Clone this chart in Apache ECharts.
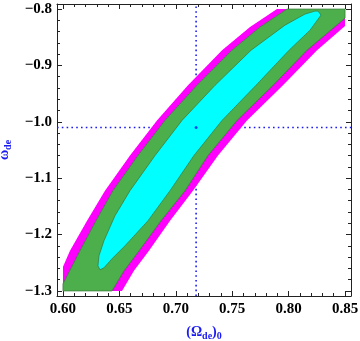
<!DOCTYPE html>
<html>
<head>
<meta charset="utf-8">
<script src="https://cdn.jsdelivr.net/npm/echarts@6/dist/echarts.min.js"></script>
<style>
  html, body { margin: 0; padding: 0; background: #fff; }
  #chart { width: 360px; height: 341px; }
</style>
</head>
<body>
<div id="chart"></div>
<script>
// axis ranges (Mathematica style frame with a little padding)
const xMin = 0.5947, xMax = 0.8553;
const yMin = -1.309, yMax = -0.791;
const xTicks = [0.60, 0.65, 0.70, 0.75, 0.80, 0.85];
const yTicks = [-1.3, -1.2, -1.1, -1.0, -0.9, -0.8];

// best fit point
const bestFit = [0.718, -1.01];

// outer (magenta) confidence region
const magentaRegion = [
    [0.6000, -1.2573], [0.6062, -1.2288], [0.6213, -1.1754], [0.6372, -1.1221],
    [0.6594, -1.0598], [0.6833, -0.9975], [0.7108, -0.9352], [0.7410, -0.8730],
    [0.7658, -0.8320], [0.7897, -0.8000], [0.8500, -0.8000], [0.8500, -0.8302],
    [0.8252, -0.8730], [0.7950, -0.9352], [0.7631, -0.9975], [0.7374, -1.0598],
    [0.7152, -1.1221], [0.6949, -1.1754], [0.6762, -1.2288], [0.6629, -1.2644],
    [0.6523, -1.3000], [0.6000, -1.3000]
];

// middle (green) region
const greenRegion = [
    [0.6000, -1.2875], [0.6151, -1.2288], [0.6293, -1.1754], [0.6443, -1.1221],
    [0.6665, -1.0598], [0.6904, -0.9975], [0.7188, -0.9352], [0.7498, -0.8730],
    [0.7746, -0.8320], [0.7986, -0.8000], [0.8500, -0.8000], [0.8500, -0.8160],
    [0.8163, -0.8730], [0.7862, -0.9352], [0.7543, -0.9975], [0.7285, -1.0598],
    [0.7082, -1.1221], [0.6869, -1.1754], [0.6674, -1.2288], [0.6541, -1.2644],
    [0.6434, -1.3000], [0.6000, -1.3000]
];

// inner (cyan) region
const cyanRegion = [
    [0.8261, -0.8036], [0.8287, -0.8107], [0.8190, -0.8374], [0.8004, -0.8730],
    [0.7711, -0.9352], [0.7410, -0.9975], [0.7161, -1.0598], [0.6949, -1.1221],
    [0.6754, -1.1754], [0.6550, -1.2199], [0.6434, -1.2431], [0.6363, -1.2591],
    [0.6328, -1.2626], [0.6310, -1.2555], [0.6319, -1.2377], [0.6363, -1.2110],
    [0.6461, -1.1665], [0.6594, -1.1221], [0.6816, -1.0598], [0.7055, -0.9975],
    [0.7348, -0.9352], [0.7667, -0.8730], [0.7968, -0.8285], [0.8145, -0.8089],
    [0.8234, -0.8036]
];

const blue = '#1c1cf0';
const labelFont = { fontFamily: 'Liberation Serif', fontWeight: 'bold', fontSize: 15, color: '#000' };

function minorTicks(from, to, step) {
    let out = [];
    for (let i = 0; from + i * step <= to + 1e-9; i++) {
        out.push(+(from + i * step).toFixed(4));
    }
    return out;
}
const xMinor = minorTicks(0.60, 0.85, 0.01);
const yMinor = minorTicks(-1.30, -0.80, 0.02);

function frameAxis(dim, pos, ticks, len, showLine, extra) {
    return Object.assign({
        type: 'value',
        position: pos,
        min: dim === 'x' ? xMin : yMin,
        max: dim === 'x' ? xMax : yMax,
        axisLine: { show: showLine, onZero: false, lineStyle: { color: '#222', width: 1 } },
        axisTick: { show: true, inside: true, length: len, customValues: ticks, lineStyle: { color: '#222' } },
        axisLabel: { show: false },
        splitLine: { show: false }
    }, extra || {});
}

function polygonSeries(points, fill, stroke, z) {
    return {
        type: 'custom',
        coordinateSystem: 'cartesian2d',
        data: points,
        clip: true,
        z: z,
        silent: true,
        renderItem: function (params, api) {
            if (params.dataIndex !== 0) return null;
            return {
                type: 'polygon',
                shape: { points: points.map(p => api.coord(p)) },
                style: { fill: fill, stroke: stroke, lineWidth: stroke ? 0.8 : 0 }
            };
        }
    };
}

// rich text for the blue axis titles (subscripts)
const titleRich = {
    a: { fontFamily: 'Liberation Serif', fontWeight: 'bold', fontSize: 14, color: blue, lineHeight: 16, verticalAlign: 'top' },
    s: { fontFamily: 'Liberation Serif', fontWeight: 'bold', fontSize: 10, color: blue, lineHeight: 12, padding: [6, 0, 0, 0], verticalAlign: 'top' }
};

const chart = echarts.init(document.getElementById('chart'));
chart.setOption({
    animation: false,
    grid: { left: 57, right: 9, top: 4, bottom: 45, containLabel: false, outerBoundsMode: 'none' },
    xAxis: [
        frameAxis('x', 'bottom', xTicks, 5, true, {
            axisLabel: Object.assign({
                show: true, margin: 6, customValues: xTicks,
                formatter: v => v.toFixed(2)
            }, labelFont),
            name: '{a|(Ω}{s|de}{a|)}{s|0}',
            nameLocation: 'middle',
            nameGap: 29,
            nameTextStyle: { rich: titleRich }
        }),
        frameAxis('x', 'bottom', xMinor, 3, false),
        frameAxis('x', 'top', xTicks, 5, true),
        frameAxis('x', 'top', xMinor, 3, false)
    ],
    yAxis: [
        frameAxis('y', 'left', yTicks, 5, true, {
            axisLabel: Object.assign({
                show: true, margin: 5, customValues: yTicks,
                formatter: v => (v < 0 ? '\u2212' : '') + Math.abs(v).toFixed(1)
            }, labelFont),
            name: '{a|ω}{s|de}',
            nameLocation: 'middle',
            nameGap: 41,
            nameTextStyle: { rich: titleRich }
        }),
        frameAxis('y', 'left', yMinor, 3, false),
        frameAxis('y', 'right', yTicks, 5, true),
        frameAxis('y', 'right', yMinor, 3, false)
    ],
    series: [
        {
            type: 'line',
            data: [[bestFit[0], yMin], [bestFit[0], yMax]],
            symbol: 'none',
            z: 1,
            lineStyle: { color: blue, width: 1.6, type: [1.6, 3.2] }
        },
        {
            type: 'line',
            data: [[xMin, bestFit[1]], [xMax, bestFit[1]]],
            symbol: 'none',
            z: 1,
            lineStyle: { color: blue, width: 1.6, type: [1.6, 3.2] }
        },
        polygonSeries(magentaRegion, '#ff00ff', null, 2),
        polygonSeries(greenRegion, '#4caf4c', '#3d7f3d', 3),
        polygonSeries(cyanRegion, '#00ffff', '#3d7f3d', 4),
        {
            type: 'scatter',
            data: [bestFit],
            symbolSize: 3,
            z: 5,
            itemStyle: { color: blue }
        }
    ]
});
</script>
</body>
</html>
